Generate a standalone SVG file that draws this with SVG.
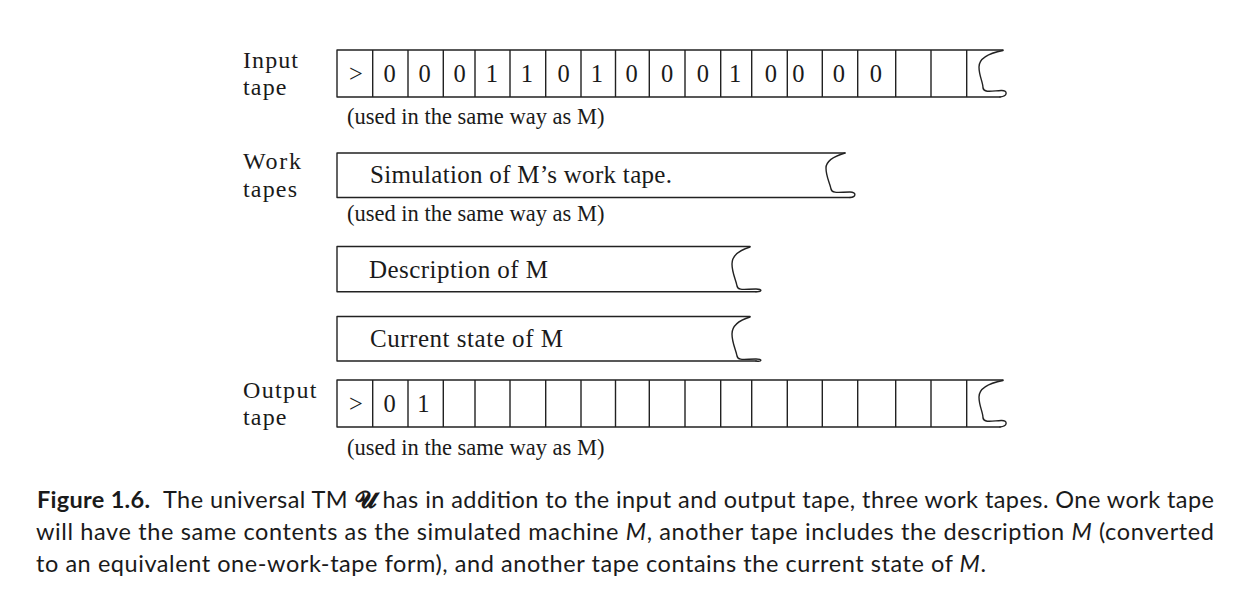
<svg xmlns="http://www.w3.org/2000/svg" width="1242" height="611" viewBox="0 0 1242 611">
<style>
.ln{fill:none;stroke:#222;stroke-width:1.4;stroke-linecap:round;stroke-linejoin:round}
.tx{font-family:"Liberation Serif","Times New Roman",serif;fill:#1a1a1a}
.lab{font-size:24px}
.dg{font-size:24.5px;text-anchor:middle}
.sub{font-size:22.5px}
.tt{font-size:25px}
.cap{font-family:Lato,"Open Sans",sans-serif;font-size:23.5px;fill:#1a1a1a}
.it{font-style:italic}
</style>
<rect width="1242" height="611" fill="#fff"/>

<g id="input-tape">
<text class="tx lab" x="243" y="68" textLength="55">Input</text>
<text class="tx lab" x="243" y="95" textLength="43.5">tape</text>
<path class="ln" d="M337 50H1003M337 97H1000M337 50V97M372.7 50V97M408 50V97M443.3 50V97M475 50V97M510 50V97M545.7 50V97M581 50V97M615.5 50V97M649.3 50V97M685 50V97M720.7 50V97M751.7 50V97M787.3 50V97M822.3 50V97M857.7 50V97M895.7 50V97M931 50V97M966.7 50V97"/>
<path class="ln" d="M1003 50.5C990 53 979 58 979 67C979 76 983 82 983 88C984 93 992 91 1001 90.5C1008 90 1008 96 1000 97"/>
<g class="tx dg">
<text x="356" y="82">&gt;</text>
<text x="389.5" y="82">0</text>
<text x="424.7" y="82">0</text>
<text x="459.5" y="82">0</text>
<text x="491.8" y="82">1</text>
<text x="526.8" y="82">1</text>
<text x="563.5" y="82">0</text>
<text x="596.8" y="82">1</text>
<text x="631.7" y="82">0</text>
<text x="667.2" y="82">0</text>
<text x="702.8" y="82">0</text>
<text x="735" y="82">1</text>
<text x="770.8" y="82">0</text>
<text x="798.3" y="82">0</text>
<text x="838.8" y="82">0</text>
<text x="875.8" y="82">0</text>
</g>
<text class="tx sub" x="347" y="124">(used in the same way as M)</text>
</g>

<g id="work-tape-1">
<text class="tx lab" x="243" y="169" textLength="58">Work</text>
<text class="tx lab" x="243" y="197" textLength="54">tapes</text>
<path class="ln" d="M337 153H845M337 197.5H850M337 153V197.5"/>
<path class="ln" d="M845 153C835 156 826 160 826 168C826 177 830 183 831 189C832 194 840 192 850 192C857 192 856 197 850 197.5"/>
<text class="tx tt" x="370" y="183" textLength="302">Simulation of M’s work tape.</text>
<text class="tx sub" x="347" y="221">(used in the same way as M)</text>
</g>

<g id="work-tape-2">
<path class="ln" d="M337 246.5H750M337 291.7H756M337 246.5V291.7"/>
<path class="ln" d="M750 247C740 250 732 255 732 264C732 273 736 280 737 286C738 291 745 289 756 289C763 289 762 292 756 291.7"/>
<text class="tx tt" x="369" y="278" textLength="179">Description of M</text>
</g>

<g id="work-tape-3">
<path class="ln" d="M337 316.5H750M337 361H756M337 316.5V361"/>
<path class="ln" d="M750 317C740 320 732 325 732 334C732 343 736 350 737 356C738 361 745 359 756 359C763 359 762 362 756 361"/>
<text class="tx tt" x="370" y="347" textLength="193">Current state of M</text>
</g>

<g id="output-tape">
<text class="tx lab" x="243" y="398" textLength="73.5">Output</text>
<text class="tx lab" x="243" y="425" textLength="43.5">tape</text>
<path class="ln" d="M337 380H1003M337 427H1000M337 380V427M372.7 380V427M408 380V427M443.3 380V427M475 380V427M510 380V427M545.7 380V427M581 380V427M615.5 380V427M649.3 380V427M685 380V427M720.7 380V427M751.7 380V427M787.3 380V427M822.3 380V427M857.7 380V427M895.7 380V427M931 380V427M966.7 380V427"/>
<path class="ln" d="M1003 380.5C990 383 979 388 979 397C979 406 983 412 983 418C984 423 992 421 1001 420.5C1008 420 1008 426 1000 427"/>
<g class="tx dg">
<text x="356" y="412">&gt;</text>
<text x="389.5" y="412">0</text>
<text x="423.3" y="412">1</text>
</g>
<text class="tx sub" x="347" y="455">(used in the same way as M)</text>
</g>

<g id="caption">
<text class="cap" x="37" y="508" font-weight="bold" textLength="113">Figure 1.6.</text>
<text class="cap" x="163" y="508" textLength="1051">The universal TM <tspan font-family="'DejaVu Serif',serif" font-weight="bold">𝓤</tspan> has in addition to the input and output tape, three work tapes. One work tape</text>
<text class="cap" x="36" y="540" textLength="1178">will have the same contents as the simulated machine <tspan class="it">M</tspan>, another tape includes the description <tspan class="it">M</tspan> (converted</text>
<text class="cap" x="36" y="572" textLength="950">to an equivalent one-work-tape form), and another tape contains the current state of <tspan class="it">M</tspan>.</text>
</g>
</svg>
